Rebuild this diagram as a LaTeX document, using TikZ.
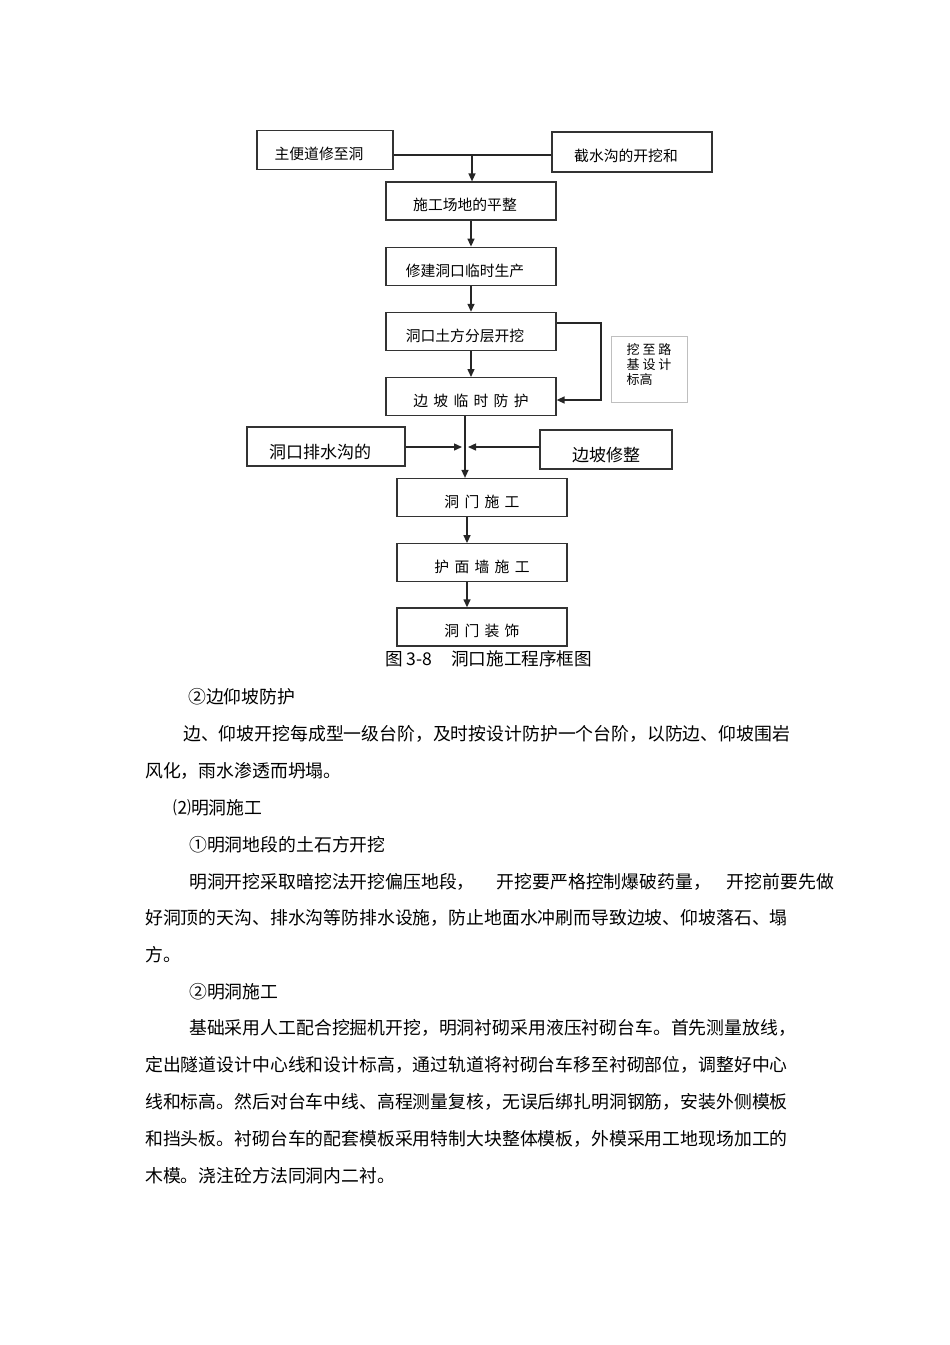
\documentclass[tikz,border=0pt]{standalone}
\usepackage{fontspec}
\setmainfont{Noto Sans CJK SC}
\usetikzlibrary{positioning}
\usetikzlibrary{arrows.meta}
\tikzset{every edge/.style={ % arrows between the steps
			draw=black!85,
			-{Triangle[length=8pt,width=7pt]},
			line width=1.4pt}}
\tikzset{link/.style={draw=black!85, line width=1.4pt}}
\newcommand{\chgap}{\hspace{5.3pt}}

\begin{document}
\begin{tikzpicture}[x=1pt,y=-1pt,
		flowbox/.style={draw=black!80, line width=1.2pt, minimum width=170pt, minimum height=38pt,
			inner sep=0pt, text height=21.8pt, text depth=2pt, font=\fontsize{14.8}{16}\selectfont},
		leftset/.style={execute at end node={\hspace{12pt}}},
		sidebox/.style={flowbox, text height=26pt, font=\fontsize{17}{20}\selectfont},
		bodytext/.style={anchor=west, inner sep=0pt, text height=15pt, text depth=1.5pt,
			font=\fontsize{17.85}{20}\selectfont}]
			\useasboundingbox (0,0) rectangle (950,1345);
			% flow chart
			\node[flowbox, leftset, minimum width=136pt, minimum height=39pt] (zbd) at (325,150) {主便道修至洞};
			\node[flowbox, leftset, minimum width=160pt, minimum height=40pt] (jsg) at (632,152) {截水沟的开挖和};
			\node[flowbox, leftset] (sgcd) at (471,201) {施工场地的平整};
			\node[flowbox, leftset, below=26pt of sgcd] (xjls) {修建洞口临时生产};
			\node[flowbox, leftset, below=26pt of xjls] (tfkw) {洞口土方分层开挖};
			\node[flowbox, below=26pt of tfkw] (bpfh) {边\chgap 坡\chgap 临\chgap 时\chgap 防\chgap 护};
			\node[draw=black!25, line width=0.8pt, minimum width=76pt, minimum height=66pt, align=left,
				font=\fontsize{13}{15}\selectfont] (wzlj) at (649,369) {挖 至 路\\基 设 计\\标高\rule[-9.5pt]{0pt}{1pt}};
			\node[sidebox, leftset, minimum width=158pt, minimum height=39pt] (psg) at (326,446.5) {洞口排水沟的};
			\node[sidebox, minimum width=132pt, minimum height=39pt] (bpxz) at (606,449.5) {边坡修整};
			\node[flowbox] (dmsg) at (482,497.5) {洞\chgap 门\chgap 施\chgap 工};
			\node[flowbox, below=26pt of dmsg] (hmq) {护\chgap 面\chgap 墙\chgap 施\chgap 工};
			\node[flowbox, below=25pt of hmq] (dmzs) {洞\chgap 门\chgap 装\chgap 饰};
			\node[anchor=west, inner sep=0pt, font=\fontsize{17.6}{20}\selectfont] (cap) at (385,659) {图 3-8\hspace{19pt}洞口施工程序框图};
			
			\coordinate (tj) at (472,155);
			\coordinate (fb1) at (601,323);
			\coordinate (fb2) at (601,400);
			\coordinate (jn) at (465,447);
			\coordinate (lx) at (467,530);
			
			\draw[link] (zbd.east |- tj) -- (jsg.west |- tj);
			\draw (tj) edge (tj |- sgcd.north);
			\draw (sgcd) edge (xjls) (xjls) edge (tfkw) (tfkw) edge (bpfh);
			\draw[link, -{Triangle[length=8pt,width=7pt]}] (tfkw.east |- fb1) -- (fb1) -- (fb2) -- (bpfh.east |- fb2);
			\draw (bpfh.south -| jn) edge (jn |- dmsg.north);
			\draw (psg.east |- jn) edge ([xshift=-3pt]jn) (bpxz.west |- jn) edge ([xshift=3pt]jn);
			\draw (dmsg.south -| lx) edge (lx |- hmq.north) (hmq.south -| lx) edge (lx |- dmzs.north);
			
			% text below the chart
			\node[bodytext] (p1) at (188,697) {②边仰坡防护};
			\node[bodytext] (p2) at (183,734) {边、仰坡开挖每成型一级台阶，及时按设计防护一个台阶，以防边、仰坡围岩};
			\node[bodytext] (p3) at (145,771) {风化，雨水渗透而坍塌。};
			\node[bodytext] (p4) at (173,808) {⑵明洞施工};
			\node[bodytext] (p5) at (189,845) {①明洞地段的土石方开挖};
			\node[bodytext] (p6) at (189,882) {明洞开挖采取暗挖法开挖偏压地段，\hspace{22pt}开挖要严格控制爆破药量，\hspace{16pt}开挖前要先做};
			\node[bodytext] (p7) at (145,918) {好洞顶的天沟、排水沟等防排水设施，防止地面水冲刷而导致边坡、仰坡落石、塌};
			\node[bodytext] (p8) at (145,955) {方。};
			\node[bodytext] (p9) at (189,992) {②明洞施工};
			\node[bodytext] (p10) at (189,1028) {基础采用人工配合挖掘机开挖，明洞衬砌采用液压衬砌台车。首先测量放线，};
			\node[bodytext] (p11) at (145,1065) {定出隧道设计中心线和设计标高，通过轨道将衬砌台车移至衬砌部位，调整好中心};
			\node[bodytext] (p12) at (145,1102) {线和标高。然后对台车中线、高程测量复核，无误后绑扎明洞钢筋，安装外侧模板};
			\node[bodytext] (p13) at (145,1139) {和挡头板。衬砌台车的配套模板采用特制大块整体模板，外模采用工地现场加工的};
			\node[bodytext] (p14) at (145,1176) {木模。浇注砼方法同洞内二衬。};
		\end{tikzpicture}
\end{document}
